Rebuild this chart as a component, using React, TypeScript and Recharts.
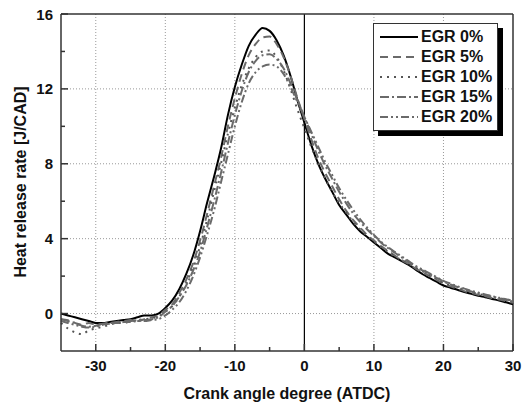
import { LineChart, Line, XAxis, YAxis, ReferenceLine } from "recharts";

// crank angle, degree ATDC
const angles = [
  -35, -34, -33, -32, -31, -30, -29, -28, -27, -26, -25, -24, -23, -22, -21, -20, -19, -18, -17, -16, -15, -14,
  -13, -12, -11, -10, -9, -8, -7, -6, -5, -4, -3, -2, -1, 0, 1, 2, 3, 4, 5, 6, 7, 8, 9, 10, 11, 12, 13, 14, 15,
  16, 17, 18, 19, 20, 21, 22, 23, 24, 25, 26, 27, 28, 29, 30,
];

// heat release rate [J/CAD]
const egr0 = [
  0.0, -0.1, -0.2, -0.3, -0.4, -0.5, -0.5, -0.45, -0.4, -0.35, -0.3, -0.2, -0.1, -0.1, 0.0, 0.3, 0.7, 1.3, 2.1,
  3.1, 4.4, 5.9, 7.3, 8.8, 10.6, 12.1, 13.3, 14.3, 14.9, 15.25, 15.1, 14.6, 13.8, 12.7, 11.4, 10.2, 9.0, 8.0, 7.2,
  6.5, 5.8, 5.3, 4.8, 4.4, 4.1, 3.8, 3.5, 3.2, 3.0, 2.8, 2.6, 2.35, 2.1, 1.9, 1.7, 1.5, 1.38, 1.27, 1.15, 1.05,
  0.95, 0.87, 0.78, 0.7, 0.6, 0.5,
];
const egr5 = [
  -0.3, -0.35, -0.5, -0.6, -0.5, -0.6, -0.55, -0.5, -0.45, -0.4, -0.35, -0.4, -0.3, -0.2, -0.1, 0.2, 0.5, 1.1, 1.8,
  2.7, 3.9, 5.3, 6.8, 8.3, 10.0, 11.5, 12.8, 13.8, 14.4, 14.75, 14.8, 14.4, 13.7, 12.7, 11.5, 10.4, 9.3, 8.3, 7.5,
  6.8, 6.1, 5.5, 5.0, 4.6, 4.2, 3.9, 3.6, 3.35, 3.1, 2.85, 2.65, 2.4, 2.2, 2.0, 1.8, 1.6, 1.45, 1.33, 1.2, 1.1, 1.0,
  0.92, 0.83, 0.75, 0.66, 0.58,
];
const egr10 = [
  -0.5, -0.8, -1.0, -1.1, -0.9, -0.8, -0.7, -0.6, -0.5, -0.5, -0.4, -0.35, -0.3, -0.25, -0.15, 0.1, 0.4, 0.9, 1.6,
  2.5, 3.6, 5.0, 6.5, 8.0, 9.6, 11.0, 12.2, 13.1, 13.7, 14.0, 14.05, 13.7, 13.0, 12.0, 10.9, 9.9, 8.9, 8.0, 7.2,
  6.5, 5.9, 5.4, 4.9, 4.5, 4.15, 3.85, 3.55, 3.3, 3.05, 2.85, 2.65, 2.45, 2.25, 2.05, 1.85, 1.65, 1.5, 1.38, 1.26,
  1.15, 1.05, 0.97, 0.9, 0.82, 0.75, 0.7,
];
const egr15 = [
  -0.3, -0.4, -0.5, -0.65, -0.7, -0.65, -0.55, -0.5, -0.5, -0.45, -0.4, -0.35, -0.35, -0.3, -0.2, 0.1, 0.4, 0.9,
  1.5, 2.3, 3.3, 4.6, 6.0, 7.5, 9.1, 10.6, 11.9, 12.9, 13.5, 13.8, 13.85, 13.6, 13.1, 12.3, 11.4, 10.5, 9.6, 8.7,
  7.9, 7.2, 6.5, 5.9, 5.35, 4.9, 4.5, 4.15, 3.8, 3.5, 3.25, 3.0, 2.75, 2.5, 2.3, 2.1, 1.9, 1.72, 1.55, 1.42, 1.3,
  1.18, 1.08, 0.98, 0.9, 0.8, 0.72, 0.64,
];
const egr20 = [
  -0.4, -0.5, -0.6, -0.7, -0.75, -0.7, -0.6, -0.55, -0.5, -0.45, -0.45, -0.4, -0.4, -0.35, -0.3, -0.1, 0.2, 0.6,
  1.2, 2.0, 3.0, 4.2, 5.5, 7.0, 8.5, 10.0, 11.3, 12.3, 12.9, 13.2, 13.3, 13.2, 12.8, 12.1, 11.3, 10.5, 9.7, 8.9,
  8.1, 7.4, 6.7, 6.1, 5.55, 5.05, 4.6, 4.2, 3.85, 3.55, 3.3, 3.05, 2.8, 2.55, 2.35, 2.15, 1.95, 1.75, 1.6, 1.46,
  1.33, 1.22, 1.12, 1.02, 0.93, 0.84, 0.76, 0.68,
];

const xTicks = [-30, -25, -20, -15, -10, -5, 0, 5, 10, 15, 20, 25, 30];
const yTicks = [0, 2, 4, 6, 8, 10, 12, 14, 16];
const xGrid = [-30, -20, -10, 10, 20];
const yGrid = [0, 4, 8, 12];

const series = [
  { key: "egr0", name: "EGR 0%", color: "#000", dash: undefined, width: 2 },
  { key: "egr5", name: "EGR 5%", color: "#6a6a6a", dash: "8 5", width: 2 },
  { key: "egr10", name: "EGR 10%", color: "#555", dash: "2 5", width: 2 },
  { key: "egr15", name: "EGR 15%", color: "#6a6a6a", dash: "9 3 2 3", width: 2 },
  { key: "egr20", name: "EGR 20%", color: "#6a6a6a", dash: "8 3 2 3 2 3", width: 2 },
];

const data = angles.map((x, i) => ({
  x,
  egr0: egr0[i],
  egr5: egr5[i],
  egr10: egr10[i],
  egr15: egr15[i],
  egr20: egr20[i],
}));

const font = "'Liberation Sans', Arial, sans-serif";

const XTick = ({ x, y, payload }: any) => {
  const major = payload.value % 10 === 0;
  return (
    <g>
      <line x1={x} y1={y} x2={x} y2={y - (major ? 7 : 4)} stroke="#333" strokeWidth={1.5} />
      {major && (
        <text x={x} y={y + 20} textAnchor="middle" fontSize={15} fontWeight="bold" fontFamily={font} fill="#111">
          {payload.value}
        </text>
      )}
    </g>
  );
};

const YTick = ({ x, y, payload }: any) => {
  const major = payload.value % 4 === 0;
  return (
    <g>
      <line x1={x} y1={y} x2={x + (major ? 7 : 4)} y2={y} stroke="#333" strokeWidth={1.5} />
      {major && (
        <text x={x - 8} y={y + 5.5} textAnchor="end" fontSize={15} fontWeight="bold" fontFamily={font} fill="#111">
          {payload.value}
        </text>
      )}
    </g>
  );
};

const LegendBox = () => (
  <div
    style={{
      position: "absolute",
      left: 373,
      top: 23,
      background: "#fff",
      border: "1px solid #333",
      boxShadow: "5px 5px 0 #000",
      padding: "3px 0 3px 5px",
      width: 118,
      fontFamily: font,
    }}
  >
    {series.map((s) => (
      <div key={s.key} style={{ display: "flex", alignItems: "center", height: 20 }}>
        <svg width={40} height={20}>
          <line x1={1} y1={10} x2={39} y2={10} stroke={s.color} strokeWidth={2} strokeDasharray={s.dash} />
        </svg>
        <span style={{ fontSize: 16, fontWeight: "bold", color: "#111", marginLeft: 2 }}>{s.name}</span>
      </div>
    ))}
  </div>
);

export default function App() {
  return (
    <div style={{ position: "absolute", left: 0, top: 0, width: 527, height: 407, background: "#fff" }}>
      <LineChart width={527} height={407} data={data} margin={{ top: 14, right: 14, left: 0, bottom: 0 }}>
        {xGrid.map((v) => (
          <ReferenceLine key={"gx" + v} x={v} stroke="#999" strokeDasharray="1 2" />
        ))}
        {yGrid.map((v) => (
          <ReferenceLine key={"gy" + v} y={v} stroke="#999" strokeDasharray="1 2" />
        ))}
        <ReferenceLine x={0} stroke="#000" strokeWidth={1.2} />
        <ReferenceLine y={16} stroke="#333" strokeWidth={1.5} />
        <ReferenceLine x={30} stroke="#333" strokeWidth={1.5} />
        <XAxis
          type="number"
          dataKey="x"
          domain={[-35, 30]}
          ticks={xTicks}
          interval={0}
          height={56}
          tickSize={0}
          tickMargin={0}
          tick={<XTick />}
          axisLine={{ stroke: "#333", strokeWidth: 1.5 }}
          label={{
            content: () => (
              <text x={287} y={399} textAnchor="middle" fontSize={16} fontWeight="bold" fontFamily={font} fill="#111">
                Crank angle degree (ATDC)
              </text>
            ),
          }}
        />
        <YAxis
          type="number"
          domain={[-2, 16]}
          ticks={yTicks}
          interval={0}
          width={61}
          tickSize={0}
          tickMargin={0}
          tick={<YTick />}
          axisLine={{ stroke: "#333", strokeWidth: 1.5 }}
          label={{
            content: () => (
              <text
                x={26}
                y={182}
                transform="rotate(-90 26 182)"
                textAnchor="middle"
                fontSize={16}
                fontWeight="bold"
                fontFamily={font}
                fill="#111"
              >
                Heat release rate [J/CAD]
              </text>
            ),
          }}
        />
        {series.map((s) => (
          <Line
            key={s.key}
            dataKey={s.key}
            name={s.name}
            type="monotone"
            stroke={s.color}
            strokeWidth={s.width}
            strokeDasharray={s.dash}
            dot={false}
            isAnimationActive={false}
          />
        ))}
      </LineChart>
      <LegendBox />
    </div>
  );
}
